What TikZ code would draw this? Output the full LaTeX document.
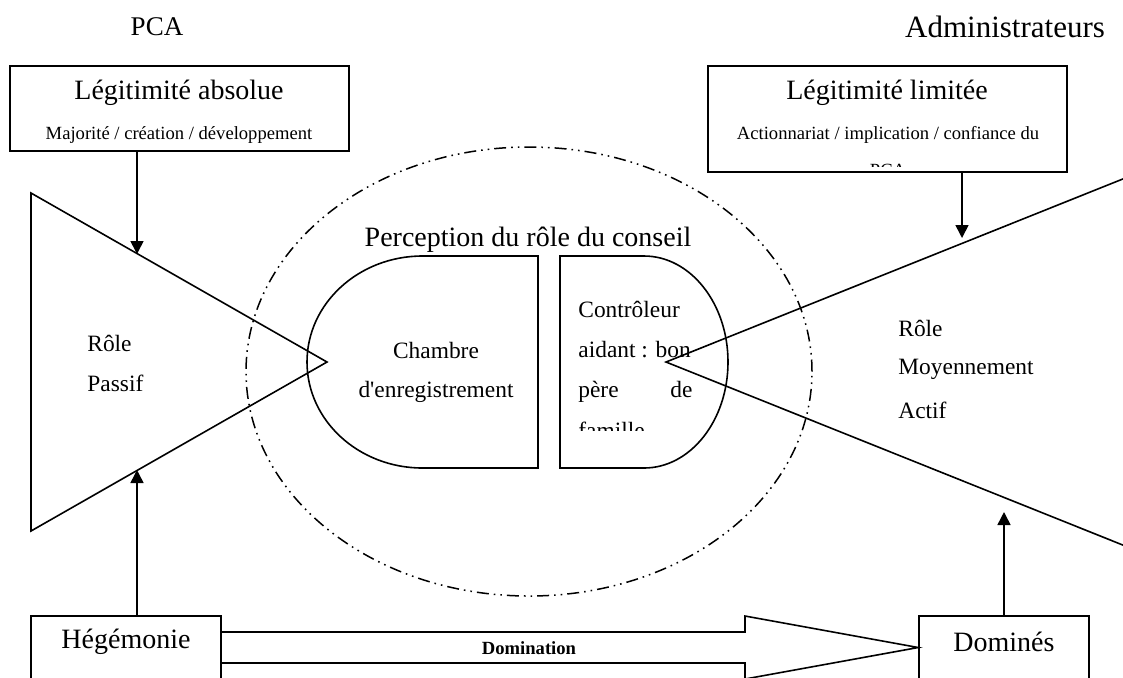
\documentclass[tikz,border=0pt]{standalone}
\usepackage{fontspec}
\setmainfont{Liberation Serif}[Ligatures=TeXOff]
\usetikzlibrary{arrows.meta}

\newcommand{\bigtxt}{\fontsize{14}{16}\selectfont}
\newcommand{\midtxt}{\fontsize{11.7}{14}\selectfont}
\newcommand{\smalltxt}{\fontsize{9.3}{11}\selectfont}

\begin{document}
\begin{tikzpicture}[x=0.5pt,y=-0.5pt,
    box/.style={draw,line width=0.8pt,inner sep=0pt},
    txt/.style={inner sep=0pt},
    trait/.style={line width=0.8pt},
    arr/.style={line width=0.8pt,-{Triangle[length=6.5pt,width=6.5pt]}},
    perc/.style={line width=0.75pt,dash pattern=on 6pt off 2.5pt on 0.8pt off 2.5pt on 0.8pt off 2.5pt}]
  \useasboundingbox (0,0) rectangle (1123,677);
  \clip (0,0) rectangle (1123,677);

  % acteurs
  \node[txt,font=\fontsize{13.5}{16}\selectfont] (pca) at (157,27) {PCA};
  \node[txt,font=\fontsize{15.5}{18}\selectfont] (admin) at (1005,27) {Administrateurs};

  % legitimite
  \node[box,minimum width=169.5pt,minimum height=42.5pt] (legabs) at (179.5,108.5) {};
  \node[txt,font=\bigtxt] (legabst) at (179,93) {Légitimité absolue};
  \node[txt,font=\smalltxt] (legabss) at (179,135) {Majorité / création / développement};
  \node[box,minimum width=179.5pt,minimum height=53pt] (leglim) at (887.5,119) {};
  \node[txt,font=\bigtxt] (leglimt) at (887,93) {Légitimité limitée};
  \node[txt,font=\smalltxt] (leglims) at (888,135) {Actionnariat / implication / confiance du};
  \begin{scope}
    \clip (708,66) rectangle (1067,166);
    \node[txt,font=\smalltxt] (leglimp) at (888,170) {PCA};
  \end{scope}

  % perception du conseil
  \draw[perc] (529,371.5) ellipse [x radius=141.5pt,y radius=112.25pt];
  \node[txt,font=\bigtxt] (perc) at (528,240) {Perception du rôle du conseil};
  \draw[trait] (422.5,256) -- (538,256) -- (538,468) -- (422.5,468)
    arc[start angle=270,end angle=90,x radius=57.75pt,y radius=53pt] -- cycle;
  \draw[trait] (644,256) -- (560,256) -- (560,468) -- (644,468)
    arc[start angle=270,end angle=450,x radius=42pt,y radius=53pt] -- cycle;
  \node[txt,font=\midtxt] (cham1) at (436,350) {Chambre};
  \node[txt,font=\midtxt] (cham2) at (436,392) {d'enregistrement};
  \begin{scope}
    \clip (560,256) rectangle (740,430);
    \node[txt,font=\midtxt,anchor=west] (ctl1) at (578,309) {Contrôleur};
    \node[txt,font=\midtxt,anchor=west] (ctl2) at (578,350) {aidant : bon};
    \node[txt,font=\midtxt,anchor=west,text width=57pt] (ctl3) at (578,392) {père\hfill de};
    \node[txt,font=\midtxt,anchor=west] (ctl4) at (578,430) {famille};
  \end{scope}

  % roles
  \coordinate (pasA) at (31,193);
  \coordinate (pasB) at (31,531);
  \coordinate (pasC) at (327,362);
  \draw[trait] (pasA) -- (pasC) -- (pasB) -- cycle;
  \node[txt,font=\midtxt,anchor=west] (pas1) at (87,343) {Rôle};
  \node[txt,font=\midtxt,anchor=west] (pas2) at (87,383) {Passif};
  \coordinate (actC) at (666,362);
  \draw[trait] (1260,124) -- (actC) -- (1260,600);
  \node[txt,font=\midtxt,anchor=west] (act1) at (898,328) {Rôle};
  \node[txt,font=\midtxt,anchor=west] (act2) at (898,369) {Moyennement};
  \node[txt,font=\midtxt,anchor=west] (act3) at (898,410) {Actif};

  % hegemonie / domines
  \node[box,minimum width=95pt,minimum height=50pt] (hege) at (126,666) {};
  \node[txt,font=\bigtxt] (heget) at (126,642) {Hégémonie};
  \node[box,minimum width=85pt,minimum height=50pt] (domi) at (1004,666) {};
  \node[txt,font=\bigtxt] (domit) at (1004,642) {Dominés};
  \coordinate (domTop) at (745,632);
  \coordinate (domBot) at (745,663);
  \coordinate (domHt) at (745,616);
  \coordinate (domHb) at (745,679);
  \coordinate (domTip) at (919,647.5);
  \draw[trait] (hege.east |- domTop) -- (domTop) -- (domHt) -- (domi.west |- domTip)
    -- (domHb) -- (domBot) -- (hege.east |- domBot);
  \node[txt,font=\smalltxt\bfseries] (domt) at (529,648) {Domination};

  % fleches
  \coordinate (pasH) at (137,254);
  \coordinate (pasL) at (137,470);
  \coordinate (actH) at (962,238);
  \coordinate (actL) at (1004,512);
  \draw[arr] (legabs.south -| pasH) -- (pasH);
  \draw[arr] (hege.north -| pasL) -- (pasL);
  \draw[arr] (leglim.south -| actH) -- (actH);
  \draw[arr] (domi.north -| actL) -- (actL);
\end{tikzpicture}
\end{document}
